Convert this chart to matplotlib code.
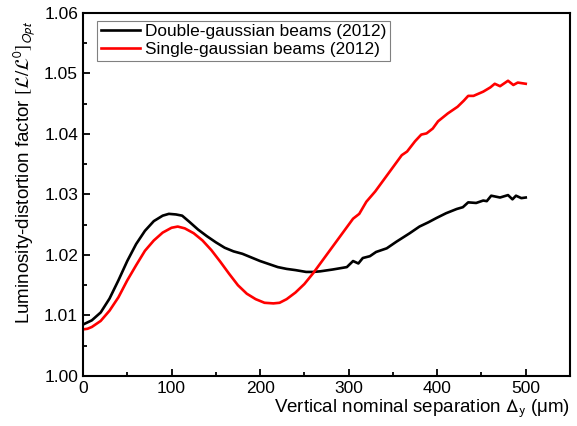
import numpy as np
import matplotlib
matplotlib.use("Agg")
import matplotlib.pyplot as plt
from matplotlib.ticker import MultipleLocator, FormatStrFormatter

plt.rcParams['font.family'] = ['Liberation Sans', 'DejaVu Sans']
plt.rcParams['mathtext.fontset'] = 'stixsans'

# Double-gaussian beams (2012)
sep_double = [0, 10, 20, 30, 40, 50, 60, 70, 80, 90, 97, 105, 112, 120, 130, 140,
              150, 160, 170, 180, 190, 200, 210, 220, 230, 240, 252, 260, 268, 282,
              298, 305, 311, 316, 324, 331, 343, 354, 369, 380, 390, 399, 410, 422,
              429, 435, 444, 452, 456, 461, 471, 480, 485, 489, 495, 500]
lum_double = [1.0085, 1.0092, 1.0105, 1.0128, 1.0158, 1.0190, 1.0218, 1.0240, 1.0256,
              1.0265, 1.0268, 1.0267, 1.0265, 1.0255, 1.0242, 1.0231, 1.0221, 1.0212,
              1.0206, 1.0202, 1.0196, 1.0190, 1.0185, 1.0180, 1.0177, 1.0175, 1.0172,
              1.0172, 1.0173, 1.0176, 1.0180, 1.0190, 1.0186, 1.0195, 1.0198, 1.0205,
              1.0211, 1.0222, 1.0236, 1.0247, 1.0254, 1.0261, 1.0269, 1.0276, 1.0279,
              1.0287, 1.0286, 1.0290, 1.0289, 1.0298, 1.0295, 1.0299, 1.0292, 1.0298,
              1.0294, 1.0295]

# Single-gaussian beams (2012)
sep_single = [0, 5, 10, 20, 30, 40, 50, 60, 70, 80, 90, 100, 107, 115, 125, 135, 145,
              155, 165, 175, 185, 195, 205, 215, 222, 230, 240, 250, 260, 270, 280,
              290, 300, 305, 312, 320, 330, 340, 350, 360, 366, 375, 382, 388, 395,
              401, 412, 423, 430, 435, 441, 452, 460, 465, 471, 480, 486, 491, 500]
lum_single = [1.0077, 1.0078, 1.0081, 1.0091, 1.0108, 1.0130, 1.0158, 1.0183, 1.0207,
              1.0224, 1.0237, 1.0245, 1.0247, 1.0244, 1.0236, 1.0224, 1.0208, 1.0189,
              1.0169, 1.0150, 1.0136, 1.0127, 1.0121, 1.0120, 1.0121, 1.0127, 1.0138,
              1.0152, 1.0170, 1.0190, 1.0210, 1.0230, 1.0250, 1.0260, 1.0268, 1.0288,
              1.0305, 1.0325, 1.0345, 1.0365, 1.0371, 1.0388, 1.0399, 1.0401, 1.0409,
              1.0421, 1.0434, 1.0445, 1.0455, 1.0463, 1.0463, 1.0470, 1.0477, 1.0483,
              1.0479, 1.0488, 1.0481, 1.0485, 1.0483]

fig = plt.figure(figsize=(5.77, 4.26), dpi=100)
ax = fig.add_axes([0.1438, 0.1174, 0.8441, 0.8521])

ax.plot(sep_double, lum_double, color='black', lw=1.9, label='Double-gaussian beams (2012)')
ax.plot(sep_single, lum_single, color='red', lw=1.9, label='Single-gaussian beams (2012)')

ax.set_xlim(0, 550)
ax.set_ylim(1.00, 1.06)
ax.set_xticks([0, 100, 200, 300, 400, 500])
ax.xaxis.set_minor_locator(MultipleLocator(50))
ax.yaxis.set_major_locator(MultipleLocator(0.01))
ax.yaxis.set_minor_locator(MultipleLocator(0.005))
ax.yaxis.set_major_formatter(FormatStrFormatter('%.2f'))

ax.tick_params(which='both', direction='in', labelsize=12.5, width=1.3)
ax.tick_params(which='major', length=5)
ax.tick_params(which='minor', length=3)
for s in ax.spines.values():
    s.set_linewidth(1.5)

ax.set_xlabel(r'Vertical nominal separation $\Delta_\mathrm{y}$ (μm)', fontsize=13.5,
              loc='right', labelpad=1)
ax.set_ylabel(r'Luminosity-distortion factor $[\mathcal{L}/\mathcal{L}^0]_{Opt}$',
              fontsize=13.5)
ax.yaxis.set_label_coords(-0.094, 0.56)

leg = ax.legend(loc='upper left', bbox_to_anchor=(0.029, 0.978), fontsize=12.4,
                frameon=True, fancybox=False, framealpha=1, edgecolor='gray',
                handlelength=2.3, handletextpad=0.3, borderpad=0.2,
                labelspacing=0.15, borderaxespad=0)
leg.get_frame().set_linewidth(0.8)

fig.savefig('out.png', dpi=100)
